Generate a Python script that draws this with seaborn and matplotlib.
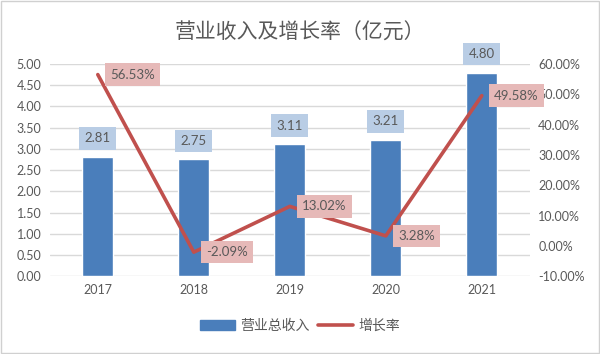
import matplotlib
matplotlib.use("Agg")
import matplotlib.pyplot as plt
import seaborn as sns
import numpy as np
import pandas as pd
from matplotlib.patches import Patch
from matplotlib.lines import Line2D

# data
years = ["2017", "2018", "2019", "2020", "2021"]
revenue = [2.81, 2.75, 3.11, 3.21, 4.80]
growth = [56.53, -2.09, 13.02, 3.28, 49.58]

bar_col = "#4a7ebb"
line_col = "#c0504d"
txt_col = "#595959"
cjk = ["Noto Sans CJK SC", "DejaVu Sans"]

sns.set_theme(style="white")
plt.rcParams["font.family"] = ["Lato", "Noto Sans CJK SC", "DejaVu Sans"]

fig = plt.figure(figsize=(6, 3.54), dpi=100)
ax = fig.add_axes([0.083, 0.22, 0.8, 0.599])

df = pd.DataFrame({"year": years, "revenue": revenue, "growth": growth})
sns.barplot(data=df, x="year", y="revenue", ax=ax, color=bar_col, width=0.32,
            saturation=1)
ax.set_ylim(0, 5)
ax.set_yticks(np.arange(0, 5.01, 0.5))
ax.set_yticklabels([f"{v:.2f}" for v in np.arange(0, 5.01, 0.5)])
ax.set_xlim(-0.5, 4.5)
ax.set_xlabel("")
ax.set_ylabel("")
ax.grid(axis="y", color="#d9d9d9", lw=1)
ax.set_axisbelow(True)
for s in ax.spines.values():
    s.set_visible(False)
ax.tick_params(axis="both", length=0, labelsize=9, colors=txt_col, pad=6)

for i, v in enumerate(revenue):
    ax.annotate(f"{v:.2f}", (i, v), xytext=(0, 9), textcoords="offset points",
                ha="center", va="bottom", fontsize=9.5, color=txt_col,
                bbox=dict(boxstyle="square,pad=0.4", fc="#b9cde5", ec="none"))

ax2 = ax.twinx()
sns.lineplot(x=list(range(5)), y=growth, ax=ax2, color=line_col, lw=2.6)
ax2.set_ylim(-10, 60)
ax2.set_yticks(range(-10, 61, 10))
ax2.set_yticklabels([f"{v:.2f}%" for v in range(-10, 61, 10)])
for s in ax2.spines.values():
    s.set_visible(False)
ax2.tick_params(axis="y", length=0, labelsize=9, colors=txt_col, pad=6)
ax2.grid(False)

for i, v in enumerate(growth):
    ax2.annotate(f"{v:.2f}%", (i, v), xytext=(9, 0), textcoords="offset points",
                 ha="left", va="center", fontsize=9.5, color=txt_col,
                 bbox=dict(boxstyle="square,pad=0.4", fc="#e6b9b8", ec="none"))

fig.suptitle("营业收入及增长率（亿元）", y=0.94, fontsize=15, color=txt_col,
             family=cjk)

handles = [Patch(color=bar_col), Line2D([0], [0], color=line_col, lw=2.6)]
leg = fig.legend(handles, ["营业总收入", "增长率"], loc="center", ncol=2,
                 bbox_to_anchor=(0.5, 0.08), frameon=False,
                 handlelength=2.5, columnspacing=0.6, handletextpad=0.4,
                 prop={"family": cjk, "size": 10})
for t in leg.get_texts():
    t.set_color(txt_col)

fig.patches.append(plt.Rectangle((0.002, 0.003), 0.996, 0.994, transform=fig.transFigure,
                                 fill=False, ec="#d0d0d0", lw=1))
fig.savefig("out.png", dpi=100)
